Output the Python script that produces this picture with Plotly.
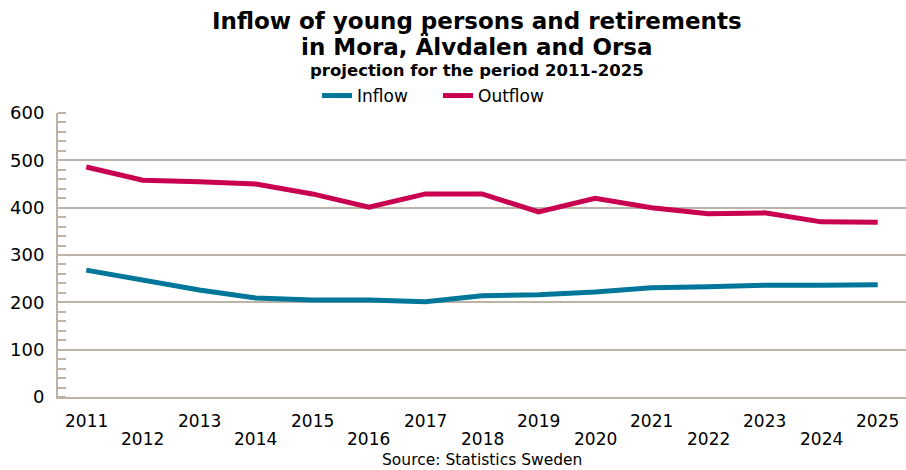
import plotly.graph_objects as go

years = list(range(2011, 2026))
inflow = [268, 247, 226, 209, 205, 205, 201, 214, 216, 222, 231, 233, 236, 236, 237]
outflow = [486, 458, 455, 450, 429, 401, 429, 429, 391, 420, 400, 387, 389, 370, 369]
y_ticks = [0, 100, 200, 300, 400, 500, 600]

W, H = 906, 470
M_L, M_T, M_B = 58, 113, 73
plot_h = H - M_T - M_B
plot_w = W - M_L


def paper_y(px):
    # convert a pixel row of the page into paper coordinates
    return (H - M_B - px) / plot_h


def paper_x(px):
    return (px - M_L) / plot_w


FONT = "DejaVu Sans, Liberation Sans, Arial"
axis_col = "#bcb3a6"

fig = go.Figure()

fig.add_trace(go.Scatter(
    x=years, y=inflow, name="Inflow", mode="lines",
    line=dict(color="#00769a", width=5),
))
fig.add_trace(go.Scatter(
    x=years, y=outflow, name="Outflow", mode="lines",
    line=dict(color="#c9004f", width=5),
))

annotations = [
    dict(text="<b>Inflow of young persons and retirements</b>",
         x=paper_x(477), y=paper_y(21), xref="paper", yref="paper", showarrow=False,
         font=dict(size=23), xanchor="center", yanchor="middle"),
    dict(text="<b>in Mora, Älvdalen and Orsa</b>",
         x=paper_x(477), y=paper_y(46), xref="paper", yref="paper", showarrow=False,
         font=dict(size=23), xanchor="center", yanchor="middle"),
    dict(text="<b>projection for the period 2011-2025</b>",
         x=paper_x(477), y=paper_y(70), xref="paper", yref="paper", showarrow=False,
         font=dict(size=16.5), xanchor="center", yanchor="middle"),
    dict(text="Source: Statistics Sweden",
         x=paper_x(482), y=paper_y(460), xref="paper", yref="paper", showarrow=False,
         font=dict(size=15.5), xanchor="center", yanchor="middle"),
]

# staggered year labels: odd years on the upper row, even years below
for yr in years:
    row_px = 421 if yr % 2 == 1 else 439
    annotations.append(dict(
        text=str(yr), x=yr, xref="x", y=paper_y(row_px), yref="paper",
        showarrow=False, xanchor="center", yanchor="middle",
        font=dict(size=17),
    ))

fig.update_layout(
    width=W, height=H,
    margin=dict(l=M_L, r=0, t=M_T, b=M_B, autoexpand=False),
    plot_bgcolor="white", paper_bgcolor="white",
    font=dict(family=FONT, color="black", size=17),
    showlegend=True,
    legend=dict(orientation="h", x=paper_x(317), xanchor="left", y=paper_y(96), yanchor="middle",
                font=dict(size=17), itemwidth=30, entrywidth=76, bgcolor="rgba(0,0,0,0)"),
    xaxis=dict(
        range=[years[0] - 0.5, years[-1] + 0.5],
        showticklabels=False, showgrid=False, ticks="", zeroline=False,
        showline=True, linecolor=axis_col, linewidth=2, fixedrange=True,
    ),
    yaxis=dict(
        range=[0, 600], tickvals=y_ticks,
        showgrid=True, gridcolor=axis_col, gridwidth=1.5,
        showline=True, linecolor=axis_col, linewidth=2,
        ticks="outside", ticklen=8, tickcolor="rgba(0,0,0,0)",
        tickfont=dict(size=18), zeroline=False, fixedrange=True,
        minor=dict(dtick=20, ticks="inside", ticklen=8, tickcolor=axis_col,
                   tickwidth=1.5, showgrid=False),
    ),
    annotations=annotations,
)

# the page's default body margin would shift the figure by 8px
fig.write_html("out.html", config={"displayModeBar": False},
               post_script="document.body.style.margin='0';")
